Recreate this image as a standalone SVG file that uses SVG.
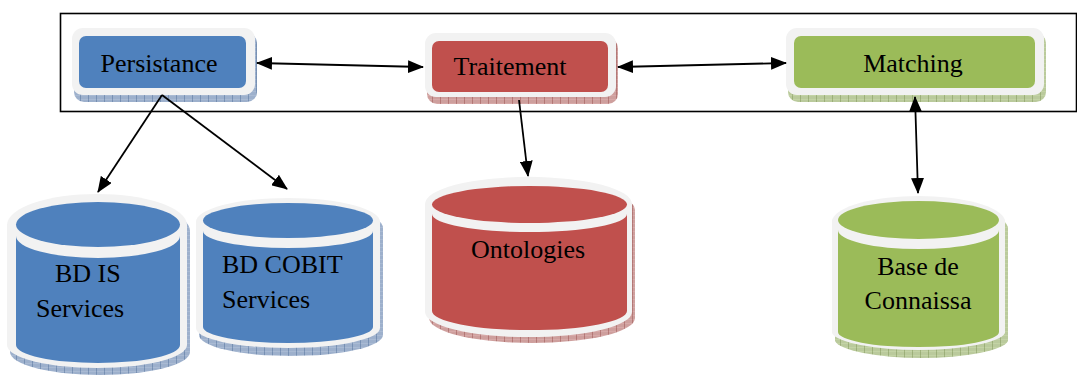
<svg xmlns="http://www.w3.org/2000/svg" width="1077" height="376" viewBox="0 0 1077 376">
<style>
text{font-family:"Liberation Serif","Times New Roman",serif;font-size:26px;fill:#000}
.band{fill:#f2f2f2}
.blue{fill:#4f81bd}
.red{fill:#c0504d}
.green{fill:#9bbb59}
.sb{fill:url(#hb)}
.sr{fill:url(#hr)}
.sg{fill:url(#hg)}
.c{stroke:#000;stroke-width:1.8;fill:none;marker-end:url(#ah)}
.c2{stroke:#000;stroke-width:1.8;fill:none;marker-end:url(#ah);marker-start:url(#ah)}
</style>
<defs>
<pattern id="hb" width="8" height="4" patternUnits="userSpaceOnUse"><rect width="8" height="4" fill="#a9bad3"/><path d="M0,0H8M0,2H8" stroke="#7f97bb" stroke-width="0.6"/><path d="M0,0V4" stroke="#3e5f8e" stroke-width="0.8"/></pattern>
<pattern id="hr" width="8" height="4" patternUnits="userSpaceOnUse"><rect width="8" height="4" fill="#d7a9a8"/><path d="M0,0H8M0,2H8" stroke="#b98583" stroke-width="0.6"/><path d="M0,0V4" stroke="#8a3c3a" stroke-width="0.8"/></pattern>
<pattern id="hg" width="8" height="4" patternUnits="userSpaceOnUse"><rect width="8" height="4" fill="#c3d3a5"/><path d="M0,0H8M0,2H8" stroke="#a3b585" stroke-width="0.6"/><path d="M0,0V4" stroke="#6e8642" stroke-width="0.8"/></pattern>
<marker id="ah" viewBox="0 0 16 13" refX="15" refY="6.5" markerWidth="16" markerHeight="13" markerUnits="userSpaceOnUse" orient="auto-start-reverse"><path d="M0,0L16,6.5L0,13Z" fill="#000"/></marker>
</defs>
<rect id="frame" x="60.5" y="13.5" width="1016" height="98" fill="#fff" stroke="#000" stroke-width="1.6"/>
<g id="persistance">
<rect class="sb" x="74" y="33" width="183" height="69" rx="10"/>
<rect class="band" x="72" y="28" width="183" height="67" rx="11"/>
<rect class="blue" x="79" y="36" width="167" height="52" rx="7"/>
<text x="159" y="72" text-anchor="middle">Persistance</text>
</g>
<g id="traitement">
<rect class="sr" x="427" y="38" width="191" height="66" rx="10"/>
<rect class="band" x="425" y="33" width="191" height="64" rx="11"/>
<rect class="red" x="432" y="41" width="176" height="51" rx="7"/>
<text x="510" y="75" text-anchor="middle">Traitement</text>
</g>
<g id="matching">
<rect class="sg" x="788" y="33" width="258" height="69" rx="10"/>
<rect class="band" x="786" y="28" width="258" height="67" rx="11"/>
<rect class="green" x="794" y="36" width="241" height="52" rx="7"/>
<text x="913" y="72" text-anchor="middle">Matching</text>
</g>
<g id="bd-is">
<path class="sb" d="M10,231 A90,31 0 0 1 190,231 L190,352 A90,23 0 0 1 10,352 Z"/>
<path class="band" d="M7,225 A90,31 0 0 1 187,225 L187,345 A90,23 0 0 1 7,345 Z"/>
<path class="blue" d="M16,236 L16,345 A82,18 0 0 0 180,345 L180,236 A82,22 0 0 1 16,236 Z"/>
<ellipse class="blue" cx="98" cy="224.5" rx="82" ry="22.5"/>
<text x="55" y="282">BD IS</text>
<text x="36" y="317">Services</text>
</g>
<g id="bd-cobit">
<path class="sb" d="M199,228 A92,24 0 0 1 383,228 L383,335 A92,21 0 0 1 199,335 Z"/>
<path class="band" d="M196,222 A92,24 0 0 1 380,222 L380,328 A92,20 0 0 1 196,328 Z"/>
<path class="blue" d="M203,231 L203,327 A85,16 0 0 0 373,327 L373,231 A85,17 0 0 1 203,231 Z"/>
<ellipse class="blue" cx="288" cy="220.5" rx="85" ry="17.5"/>
<text x="222" y="273">BD COBIT</text>
<text x="222" y="308">Services</text>
</g>
<g id="ontologies">
<path class="sr" d="M429,210 A103,27 0 0 1 635,210 L635,318 A103,25 0 0 1 429,318 Z"/>
<path class="band" d="M425,204 A103,27 0 0 1 632,204 L632,312 A103,25 0 0 1 425,312 Z"/>
<path class="red" d="M432,214 L432,311 A97,19 0 0 0 627,311 L627,214 A97,18 0 0 1 432,214 Z"/>
<ellipse class="red" cx="529.5" cy="204.5" rx="97.5" ry="18.5"/>
<text x="528" y="258" text-anchor="middle">Ontologies</text>
</g>
<g id="base">
<path class="sg" d="M835,227 A87,27 0 0 1 1008,227 L1008,341 A87,19 0 0 1 835,341 Z"/>
<path class="band" d="M832,220 A87,27 0 0 1 1005,220 L1005,333 A87,19 0 0 1 832,333 Z"/>
<path class="green" d="M838,230 L838,332 A80,15 0 0 0 999,332 L999,230 A80,19 0 0 1 838,230 Z"/>
<ellipse class="green" cx="918.5" cy="220" rx="80.5" ry="19"/>
<text x="918" y="275" text-anchor="middle">Base de</text>
<text x="918" y="309" text-anchor="middle">Connaissa</text>
</g>
<g id="connectors">
<path class="c2" d="M257,63 L423,67"/>
<path class="c2" d="M618,67 L786,63"/>
<path class="c" d="M519,100 L528,176"/>
<path class="c2" d="M915,97 L918,193"/>
<path class="c" d="M162,95 L98,192"/>
<path class="c" d="M162,95 L287,189"/>
</g>
</svg>
